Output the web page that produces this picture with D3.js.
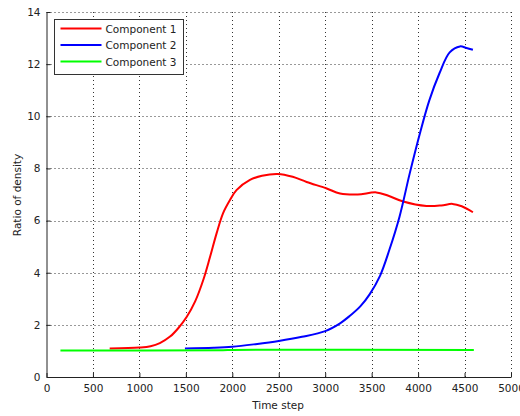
<!DOCTYPE html>
<html lang="en">
<head>
<meta charset="utf-8">
<title>Ratio of density</title>
<script src="https://cdn.jsdelivr.net/npm/d3@7"></script>
<style>
body { margin: 0; background: #fff; }
text { font-family: "DejaVu Sans", Arial, sans-serif; fill: #222; }
.tick text { font-size: 10.5px; }
.grid line { stroke: #333; stroke-width: 1px; stroke-dasharray: 1,3; }
.axis path, .axis line { stroke: #222; }
.curve { fill: none; stroke-width: 2px; }
</style>
</head>
<body>
<script>
// series
var xTicks = [0, 500, 1000, 1500, 2000, 2500, 3000, 3500, 4000, 4500, 5000];
var yTicks = [0, 2, 4, 6, 8, 10, 12, 14];

var comp1 = [[680,1.09],[1000,1.13],[1120,1.18],[1220,1.3],[1330,1.55],[1420,1.88],[1510,2.31],[1600,2.9],[1690,3.75],[1760,4.6],[1830,5.5],[1900,6.28],[1975,6.79],[2045,7.17],[2190,7.56],[2320,7.72],[2490,7.79],[2650,7.68],[2800,7.48],[3010,7.24],[3160,7.04],[3350,7.0],[3550,7.08],[3680,6.95],[3840,6.73],[4090,6.56],[4250,6.58],[4370,6.64],[4470,6.55],[4590,6.32]];
var comp2 = [[1490,1.09],[1800,1.12],[2000,1.16],[2250,1.26],[2500,1.38],[2750,1.54],[3000,1.76],[3160,2.06],[3260,2.33],[3380,2.72],[3480,3.18],[3590,3.88],[3690,4.87],[3800,6.15],[3910,7.81],[4020,9.35],[4120,10.6],[4230,11.65],[4340,12.45],[4450,12.68],[4520,12.62],[4590,12.55]];
var comp3 = [[150,1.02],[1900,1.03],[2000,1.04],[4600,1.04]];

var series = [
  {name: "Component 1", color: "#ff0000", data: comp1},
  {name: "Component 2", color: "#0000ff", data: comp2},
  {name: "Component 3", color: "#00ff00", data: comp3}
];

var w = 520, h = 416;
var mLeft = 46.5, mRight = 511, mTop = 12, mBottom = 377;

var svg = d3.select("body").append("svg")
  .attr("width", w).attr("height", h);

var x = d3.scaleLinear().domain([0, 5000]).range([mLeft, mRight]);
var y = d3.scaleLinear().domain([0, 14]).range([mBottom, mTop]);

// grid
var grid = svg.append("g").attr("class", "grid");
grid.selectAll(".vx").data(xTicks.slice(1)).enter().append("line")
  .attr("x1", function(d){ return Math.round(x(d)) + 0.5; })
  .attr("x2", function(d){ return Math.round(x(d)) + 0.5; })
  .attr("y1", mBottom).attr("y2", mTop);
grid.selectAll(".hy").data(yTicks.slice(1)).enter().append("line")
  .attr("y1", function(d){ return Math.round(y(d)) + 0.5; })
  .attr("y2", function(d){ return Math.round(y(d)) + 0.5; })
  .attr("x1", mLeft).attr("x2", mRight);

// axes
var xAxis = d3.axisBottom(x).tickValues(xTicks).tickFormat(d3.format("d"))
  .tickSize(-4).tickPadding(8).tickSizeOuter(0);
var yAxis = d3.axisLeft(y).tickValues(yTicks).tickFormat(d3.format("d"))
  .tickSize(-4).tickPadding(6).tickSizeOuter(0);

svg.append("g").attr("class", "axis")
  .attr("transform", "translate(0," + mBottom + ")")
  .call(xAxis);
svg.append("g").attr("class", "axis")
  .attr("transform", "translate(" + mLeft + ",0)")
  .call(yAxis);

// lines
var line = d3.line()
  .x(function(d){ return x(d[0]); })
  .y(function(d){ return y(d[1]); })
  .curve(d3.curveCatmullRom.alpha(0.5));

svg.selectAll(".curve").data(series).enter().append("path")
  .attr("class", "curve")
  .attr("stroke", function(d){ return d.color; })
  .attr("d", function(d){ return line(d.data); });

// labels
svg.append("text")
  .attr("x", 278).attr("y", 409)
  .attr("text-anchor", "middle")
  .style("font-size", "10.5px")
  .text("Time step");

svg.append("text")
  .attr("transform", "translate(21,195) rotate(-90)")
  .attr("text-anchor", "middle")
  .style("font-size", "10.5px")
  .text("Ratio of density");

// legend
var lg = svg.append("g").attr("transform", "translate(54.5,19.5)");
lg.append("rect").attr("width", 129).attr("height", 55)
  .attr("fill", "#fff").attr("stroke", "#333");
var rows = lg.selectAll(".row").data(series).enter().append("g")
  .attr("transform", function(d, i){ return "translate(0," + (9 + i * 16.5) + ")"; });
rows.append("line")
  .attr("x1", 6).attr("x2", 47).attr("y1", 0).attr("y2", 0)
  .attr("stroke", function(d){ return d.color; })
  .attr("stroke-width", 2);
rows.append("text")
  .attr("x", 51).attr("y", 4)
  .style("font-size", "10.5px")
  .text(function(d){ return d.name; });
</script>
</body>
</html>
